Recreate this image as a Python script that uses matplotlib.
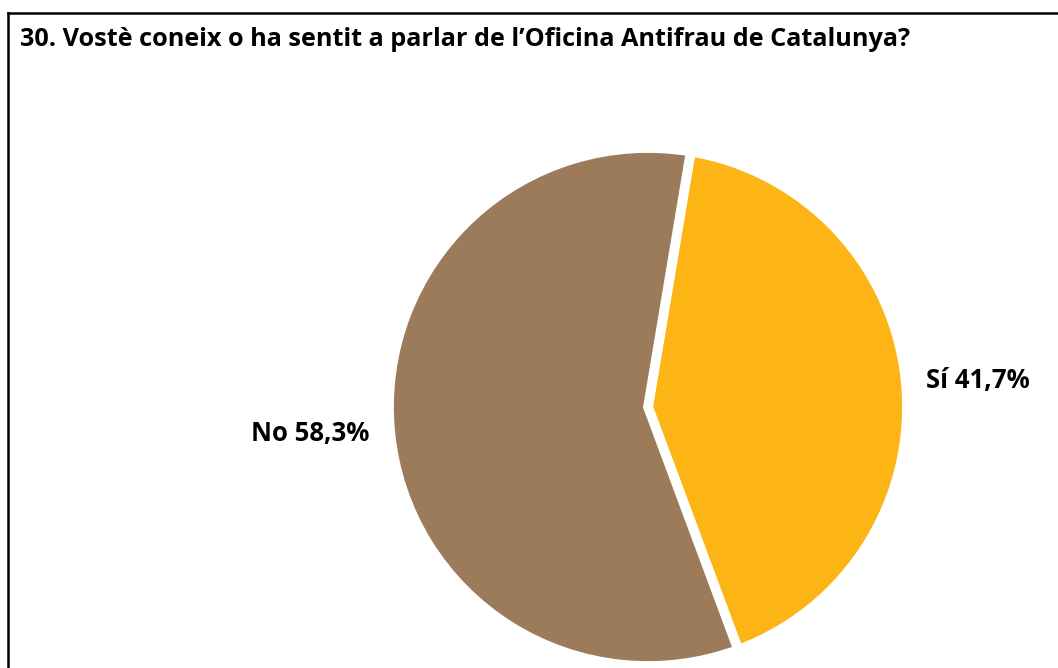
import matplotlib.pyplot as plt
from matplotlib.lines import Line2D

# Dades de l'enquesta
categories = ['Sí', 'No']
percentatges = [41.7, 58.3]
colors = ['#FDB515', '#9C7B5B']
titol = "30. Vostè coneix o ha sentit a parlar de l\u2019Oficina Antifrau de Catalunya?"

plt.rcParams['font.family'] = ['Open Sans', 'DejaVu Sans']

W, H = 1058, 668
fig = plt.figure(figsize=(W / 100, H / 100), dpi=100)

# Marc (només esquerra i dalt visibles)
fig.add_artist(Line2D([8 / W, 8 / W], [0, 1 - 13 / H], color='black', lw=1.8))
fig.add_artist(Line2D([8 / W, 1], [1 - 13 / H, 1 - 13 / H], color='black', lw=1.8))

fig.text(20 / W, 1 - 39 / H, titol, fontsize=18.2, fontweight='bold', va='center', ha='left')

# Pastís
cx, cy, r = 648, 407, 259
esc = 1.1
ax = fig.add_axes([(cx - r * esc) / W, (H - cy - r * esc) / H, 2 * r * esc / W, 2 * r * esc / H])
etiquetes = [f"{c} {str(p).replace('.', ',')}%" for c, p in zip(categories, percentatges)]
ax.pie(percentatges, labels=etiquetes, colors=colors, startangle=80.5, counterclock=False,
       labeldistance=1.08,
       wedgeprops=dict(edgecolor='white', linewidth=7, clip_on=False),
       textprops=dict(fontsize=18.5, fontweight='bold'))
ax.set_xlim(-esc, esc)
ax.set_ylim(-esc, esc)
ax.set_aspect('equal')

plt.savefig('out.png', dpi=100)
